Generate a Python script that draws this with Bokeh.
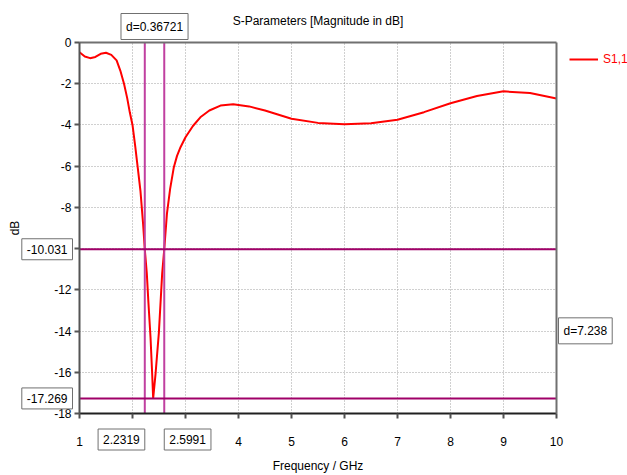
from bokeh.plotting import figure
from bokeh.models import (Label, Legend, LegendItem, FixedTicker, Range1d, LinearAxis, Grid)
from bokeh.embed import file_html
from bokeh.resources import INLINE

# S1,1 magnitude (dB)
freq = [1.0, 1.1, 1.2, 1.3, 1.4, 1.5, 1.6, 1.7, 1.77, 1.84, 1.9, 1.95, 2.0, 2.05, 2.1,
        2.15, 2.2, 2.2319, 2.27, 2.3, 2.34, 2.37, 2.39, 2.434, 2.497, 2.56, 2.5991,
        2.65, 2.71, 2.78, 2.84, 2.906, 3.0, 3.14, 3.28, 3.45, 3.66, 3.9, 4.2, 4.5, 5.0,
        5.5, 6.0, 6.5, 7.0, 7.5, 8.0, 8.5, 9.0, 9.5, 10.0]
s11 = [-0.47, -0.68, -0.76, -0.7, -0.55, -0.5, -0.6, -0.87, -1.36, -2.0, -2.7, -3.4,
       -4.0, -5.0, -6.1, -7.2, -8.8, -10.031, -11.2, -12.6, -14.3, -16.0, -17.27,
       -16.1, -14.1, -11.2, -10.031, -8.3, -7.1, -6.05, -5.5, -5.08, -4.6, -4.05, -3.63,
       -3.3, -3.06, -3.0, -3.1, -3.3, -3.7, -3.9, -3.97, -3.92, -3.75, -3.38, -2.95,
       -2.6, -2.37, -2.45, -2.72]

XLIM = (1, 10)
YLIM = (-18, 0)
x_ticks = [1, 2, 3, 4, 5, 6, 7, 8, 9, 10]
x_tick_labels = ["1", "", "", "4", "5", "6", "7", "8", "9", "10"]
y_ticks = [0, -2, -4, -6, -8, -10, -12, -14, -16, -18]
y_tick_labels = ["0", "-2", "-4", "-6", "-8", "", "-12", "-14", "-16", "-18"]
marker_x = [2.2319, 2.5991]
marker_y = [-10.031, -17.269]
dx_label = "d=0.36721"
dy_label = "d=7.238"
series_name = "S1,1"
title_text = "S-Parameters [Magnitude in dB]"

# page layout (pixels): the plot box inside a 627x475 canvas
W, H = 627, 475
BOX_L, BOX_R, BOX_T, BOX_B = 79, 556, 42, 413
ux = (XLIM[1] - XLIM[0]) / (BOX_R - BOX_L)
uy = (YLIM[1] - YLIM[0]) / (BOX_B - BOX_T)
x_range = Range1d(XLIM[0] - BOX_L * ux, XLIM[1] + (W - BOX_R) * ux)
y_range = Range1d(YLIM[0] - (H - BOX_B) * uy, YLIM[1] + BOX_T * uy)

FONT = "Liberation Sans"
FS = "12px"
LINE_RED = "#ff0000"
VCOL = "#c040a0"
HCOL = "#a00068"
FRAME_GRAY = "#707070"

p = figure(width=W, height=H, output_backend="svg", toolbar_location=None,
           x_range=x_range, y_range=y_range, x_axis_location=None,
           y_axis_location=None, min_border=0)
p.title.visible = False
p.outline_line_color = None
p.background_fill_color = "white"
p.border_fill_color = "white"
p.center = []


def style_axis(ax):
    ax.axis_line_width = 2
    ax.major_tick_out = 5
    ax.major_tick_in = 0
    ax.major_tick_line_width = 2
    ax.minor_tick_line_color = None
    ax.major_label_text_font = FONT
    ax.major_label_text_font_size = FS
    ax.major_label_text_color = "#000000"
    ax.axis_label_text_font = FONT
    ax.axis_label_text_font_size = FS
    ax.axis_label_text_font_style = "normal"
    ax.axis_label_text_color = "#000000"


xax = LinearAxis(fixed_location=YLIM[0], bounds=XLIM, ticker=FixedTicker(ticks=x_ticks),
                 major_label_overrides=dict(zip(x_ticks, x_tick_labels)),
                 axis_label="Frequency / GHz")
style_axis(xax)
xax.axis_line_color = "#202020"
xax.major_tick_line_color = "#505050"
xax.major_label_standoff = 18
xax.axis_label_standoff = 10
p.add_layout(xax, "below")

yax = LinearAxis(fixed_location=XLIM[0], bounds=YLIM, ticker=FixedTicker(ticks=y_ticks),
                 major_label_overrides=dict(zip(y_ticks, y_tick_labels)), axis_label="dB")
style_axis(yax)
yax.axis_line_color = "#555555"
yax.major_tick_line_color = "#555555"
yax.major_label_standoff = 3
yax.axis_label_standoff = 29
p.add_layout(yax, "left")

# top and right edges of the plot box
for loc, side, bnds in ((YLIM[1], "above", XLIM), (XLIM[1], "right", YLIM)):
    edge = LinearAxis(fixed_location=loc, bounds=bnds, ticker=FixedTicker(ticks=[]),
                      axis_line_color=FRAME_GRAY, axis_line_width=2, major_tick_out=0,
                      major_tick_in=0, minor_tick_line_color=None,
                      major_label_text_font_size="0px")
    p.add_layout(edge, side)

# dotted grid restricted to the plot box
grid_style = dict(grid_line_color="#a0a0a0", grid_line_dash="1 2", grid_line_width=1)
if "cross_bounds" in Grid.properties():
    p.add_layout(Grid(dimension=0, ticker=FixedTicker(ticks=x_ticks), bounds=XLIM,
                      cross_bounds=YLIM, **grid_style))
    p.add_layout(Grid(dimension=1, ticker=FixedTicker(ticks=y_ticks), bounds=YLIM,
                      cross_bounds=XLIM, **grid_style))
else:
    p.segment(x0=x_ticks, y0=[YLIM[0]] * len(x_ticks), x1=x_ticks, y1=[YLIM[1]] * len(x_ticks),
              line_color="#a0a0a0", line_dash="1 2", line_width=1)
    p.segment(x0=[XLIM[0]] * len(y_ticks), y0=y_ticks, x1=[XLIM[1]] * len(y_ticks), y1=y_ticks,
              line_color="#a0a0a0", line_dash="1 2", line_width=1)

r = p.line(freq, s11, line_color=LINE_RED, line_width=2)

# marker lines
p.segment(x0=marker_x, y0=[YLIM[0]] * 2, x1=marker_x, y1=[YLIM[1]] * 2,
          line_color=VCOL, line_width=2)
p.segment(x0=[XLIM[0]] * 2, y0=marker_y, x1=[XLIM[1]] * 2, y1=marker_y,
          line_color=HCOL, line_width=2)

# title
p.add_layout(Label(x=(XLIM[0] + XLIM[1]) / 2, y=YLIM[1], y_offset=22, text=title_text,
                   anchor="center", text_font=FONT, text_font_size=FS,
                   text_color="#000000"))

# legend
p.add_layout(Legend(items=[LegendItem(label=series_name, renderers=[r])],
                    location=(569, H - 69), border_line_color=None,
                    background_fill_alpha=0, label_text_font=FONT,
                    label_text_font_size=FS, label_text_color=LINE_RED,
                    glyph_width=29, glyph_height=20, label_height=20,
                    padding=0, margin=0, label_standoff=5))

box = dict(text_font=FONT, text_font_size=FS, text_color="#000000",
           background_fill_color="white", border_line_color=FRAME_GRAY,
           border_line_width=1, padding=dict(left=5, right=5, top=6, bottom=6))

p.add_layout(Label(x=marker_x[0], y=YLIM[0], y_offset=-26, anchor="center_right",
                   text=f"{marker_x[0]:.4f}", **box))
p.add_layout(Label(x=marker_x[1], y=YLIM[0], y_offset=-26, anchor="center_left",
                   text=f"{marker_x[1]:.4f}", **box))
for my in marker_y:
    p.add_layout(Label(x=XLIM[0], y=my, x_offset=-7, anchor="center_right",
                       text=f"{my:.3f}", **box))
p.add_layout(Label(x=(marker_x[0] + marker_x[1]) / 2, y=YLIM[1], y_offset=3,
                   anchor="bottom_center", text=dx_label, **box))
p.add_layout(Label(x=XLIM[1], y=(marker_y[0] + marker_y[1]) / 2, x_offset=2, y_offset=-7,
                   anchor="center_left", text=dy_label, **box))

open("out.html", "w").write(file_html(p, INLINE))
